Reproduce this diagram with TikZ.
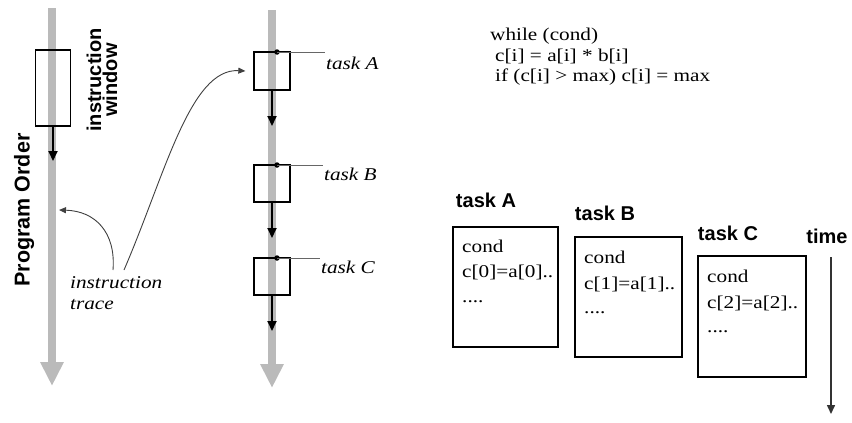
\documentclass[tikz,border=0pt]{standalone}
\usepackage{fontspec}
\setsansfont{Liberation Sans}
\newfontfamily\serifx[FakeStretch=1.18]{Liberation Serif}
\usetikzlibrary{arrows.meta}
\definecolor{shaftgray}{HTML}{BABABA}
\tikzset{
  shaft/.style={draw=shaftgray, line width=8pt, -{Triangle[width=22pt,length=24pt]}},
  ordarrow/.style={draw=black, line width=2pt, -{Triangle[width=9pt,length=10pt]}},
  winbox/.style={draw=black, line width=1.3pt, inner sep=0pt},
  curvearrow/.style={draw=black!75, line width=0.9pt, -{Triangle[width=6pt,length=7pt]}},
  leader/.style={draw=black!60, line width=0.8pt},
  tdot/.style={circle, fill=black, inner sep=0pt, minimum size=5.5pt},
  boldlabel/.style={font=\sffamily\bfseries\fontsize{20}{16}\selectfont, inner sep=0pt},
  itlabel/.style={font=\serifx\itshape\fontsize{18}{21}\selectfont, inner sep=0pt},
  codetext/.style={font=\serifx\fontsize{18}{20}\selectfont, inner sep=0pt, anchor=base west},
  bigbox/.style={draw=black, line width=2.6pt, inner sep=0pt},
}
\begin{document}
\begin{tikzpicture}[x=1pt,y=-1pt]
\useasboundingbox[fill=white] (0,0) rectangle (852,423);

% ---------- left: instruction window ----------
\coordinate (s1top) at (52,8);
\coordinate (s1end) at (52,386);
\draw[shaft] (s1top) -- (s1end);
\node[winbox, minimum width=35pt, minimum height=76pt] (iw) at (53,88) {};
\coordinate (iwarr) at (53,161);
\draw[ordarrow] (iw.south) -- (iwarr);
\node[boldlabel, rotate=90, align=center] (iwlabel) at (102,80) {instruction\\window};
\node[boldlabel, font=\sffamily\bfseries\fontsize{21.5}{16}\selectfont, rotate=90] (po) at (24,210) {Program Order};
\node[itlabel, align=left, anchor=north west] (trace) at (70,276) {instruction\\trace};
\coordinate (tr1) at (113,270);
\coordinate (tr2) at (124,270);
\coordinate (shafthit) at (59,210);
\draw[curvearrow] (tr1) .. controls (116,232) and (95,211) .. (shafthit);

% ---------- middle: tasks ----------
\coordinate (s2top) at (272,10);
\coordinate (s2end) at (272,388);
\draw[shaft] (s2top) -- (s2end);

\node[winbox, minimum width=36pt, minimum height=38pt] (tA) at (272,71) {};
\node[winbox, minimum width=36pt, minimum height=37pt] (tB) at (272,183.5) {};
\node[winbox, minimum width=36pt, minimum height=37pt] (tC) at (272,276.5) {};

\coordinate (aA) at (272,126);
\coordinate (aB) at (272,238);
\coordinate (aC) at (272,331);
\draw[ordarrow] (tA.south) -- (aA);
\draw[ordarrow] (tB.south) -- (aB);
\draw[ordarrow] (tC.south) -- (aC);

\node[tdot] (dA) at (277,52) {};
\node[tdot] (dB) at (277,165) {};
\node[tdot] (dC) at (277,258) {};
\coordinate (lA) at (325,52);
\coordinate (lB) at (323,165);
\coordinate (lC) at (320,258);
\draw[leader] (dA.center) -- (lA);
\draw[leader] (dB.center) -- (lB);
\draw[leader] (dC.center) -- (lC);
\node[itlabel, anchor=west] (labA) at (326,63) {task A};
\node[itlabel, anchor=west] (labB) at (324,174) {task B};
\node[itlabel, anchor=west] (labC) at (321,267) {task C};

\draw[curvearrow] (tr2) .. controls (165,175) and (190,68) .. ([xshift=-8pt]tA.west);

% ---------- right: code ----------
\node[codetext] (c1) at (490,40) {while (cond)};
\node[codetext] (c2) at (495,61) {c[i] = a[i] * b[i]};
\node[codetext] (c3) at (495,81) {if (c[i] > max) c[i] = max};

% ---------- right: task boxes ----------
\node[boldlabel] (hA) at (486,200) {task A};
\node[boldlabel] (hB) at (605,213) {task B};
\node[boldlabel] (hC) at (728,233) {task C};
\node[boldlabel] (htime) at (827,236) {time};

\node[bigbox, minimum width=105pt, minimum height=120pt] (bA) at (505.5,287) {};
\node[bigbox, minimum width=107pt, minimum height=120pt] (bB) at (628.5,297) {};
\node[bigbox, minimum width=108pt, minimum height=121pt] (bC) at (752,316.5) {};

\node[codetext] (bA1) at (462,252) {cond};
\node[codetext] (bA2) at (462,277) {c[0]=a[0]..};
\node[codetext] (bA3) at (462,302) {....};
\node[codetext] (bB1) at (584,263) {cond};
\node[codetext] (bB2) at (584,289) {c[1]=a[1]..};
\node[codetext] (bB3) at (584,313) {....};
\node[codetext] (bC1) at (707,282) {cond};
\node[codetext] (bC2) at (707,308) {c[2]=a[2]..};
\node[codetext] (bC3) at (707,332) {....};

\coordinate (time1) at (831,257);
\coordinate (time2) at (831,414);
\draw[draw=black!80, line width=1.5pt, -{Triangle[width=8pt,length=9pt]}] (time1) -- (time2);
\end{tikzpicture}
\end{document}
